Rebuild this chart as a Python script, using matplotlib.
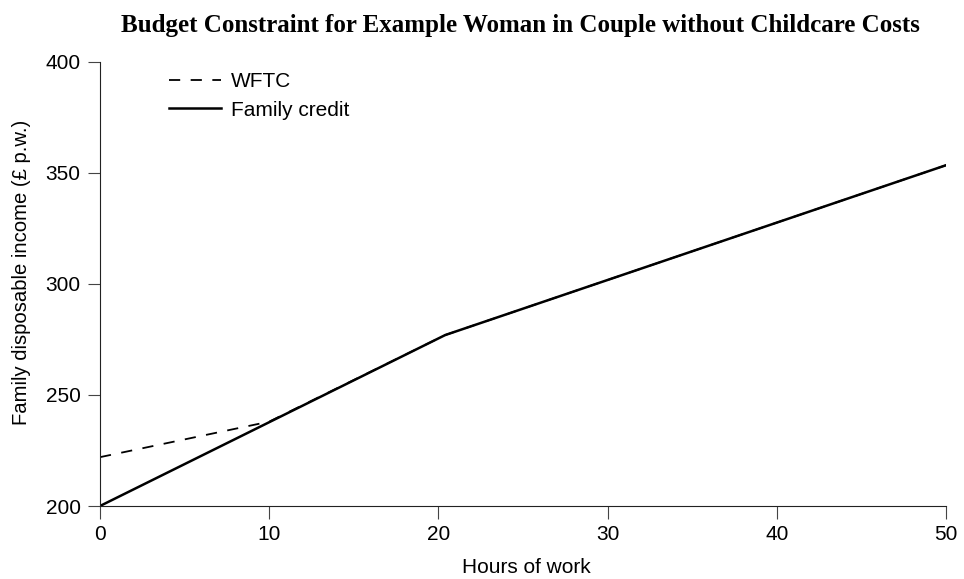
import matplotlib
matplotlib.use("Agg")
import matplotlib.pyplot as plt

# data
fc_hours = [0, 20.4, 50]
fc_income = [200, 277, 353.5]
wftc_hours = [0, 10, 20.4, 50]
wftc_income = [222, 238, 277, 353.5]

plt.rcParams['font.family'] = ['Liberation Sans', 'DejaVu Sans']

fig = plt.figure(figsize=(9.64, 5.79), dpi=100)
ax = fig.add_axes([100 / 964, 73 / 579, 846 / 964, 444 / 579])

ax.plot(wftc_hours, wftc_income, color='black', lw=1.3, linestyle=(0, (6.2, 5.8)), label='WFTC')
ax.plot(fc_hours, fc_income, color='black', lw=1.8, label='Family credit')

ax.set_xlim(0, 50)
ax.set_ylim(200, 400)
ax.set_xticks([0, 10, 20, 30, 40, 50])
ax.set_yticks([200, 250, 300, 350, 400])
ax.tick_params(direction='out', length=9, labelsize=15, color='#444444', pad=5)
for s in ['top', 'right']:
    ax.spines[s].set_visible(False)
ax.spines['left'].set_color('#222222')
ax.spines['bottom'].set_color('#222222')

ax.set_xlabel('Hours of work', fontsize=15)
ax.set_ylabel('Family disposable income (£ p.w.)', fontsize=14.6)
ax.xaxis.set_label_coords(0.5045, -0.116)
ax.yaxis.set_label_coords(-0.081, 0.527)

fig.suptitle('Budget Constraint for Example Woman in Couple without Childcare Costs',
             x=520 / 964, y=0.975, fontsize=18, fontweight='bold',
             family=['Liberation Serif', 'DejaVu Serif'])

ax.legend(loc='upper left', bbox_to_anchor=(0.059, 1.019), frameon=False,
          fontsize=15, handlelength=2.5, handletextpad=0.48, labelspacing=0.45)

fig.savefig('out.png', dpi=100)
